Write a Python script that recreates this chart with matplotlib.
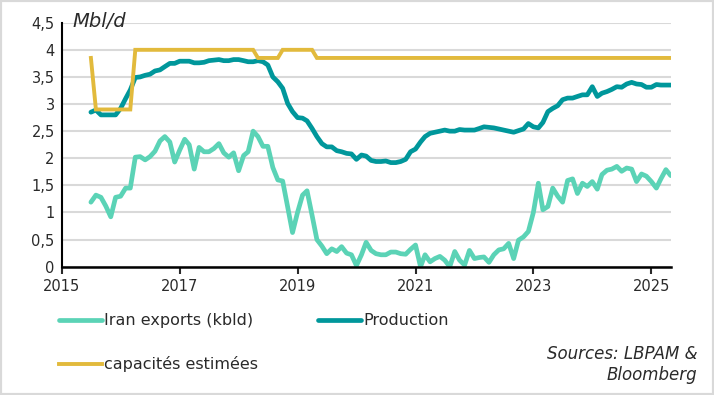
import pandas as pd
import matplotlib.pyplot as plt
import matplotlib.dates as mdates
from matplotlib.patches import Rectangle
from matplotlib.ticker import FixedLocator, FuncFormatter

# monthly data, Jul 2015 -> May 2025
months = pd.date_range("2015-07-01", "2025-05-01", freq="MS")

exports = [
    1.19, 1.32, 1.28, 1.12, 0.92, 1.28,                                      # 2015 H2
    1.30, 1.45, 1.45, 2.02, 2.03, 1.97, 2.03, 2.13, 2.32, 2.40, 2.30, 1.93,  # 2016
    2.15, 2.35, 2.25, 1.80, 2.20, 2.12, 2.12, 2.18, 2.27, 2.10, 2.02, 2.10,  # 2017
    1.77, 2.05, 2.12, 2.50, 2.40, 2.22, 2.22, 1.83, 1.60, 1.58, 1.10, 0.63,  # 2018
    1.00, 1.32, 1.40, 0.95, 0.50, 0.38, 0.24, 0.33, 0.28, 0.37, 0.25, 0.22,  # 2019
    0.02, 0.22, 0.45, 0.30, 0.24, 0.22, 0.22, 0.27, 0.27, 0.24, 0.23, 0.32,  # 2020
    0.40, 0.00, 0.22, 0.09, 0.15, 0.19, 0.12, 0.00, 0.28, 0.12, 0.03, 0.30,  # 2021
    0.15, 0.17, 0.18, 0.08, 0.22, 0.31, 0.33, 0.43, 0.15, 0.49, 0.55, 0.65,  # 2022
    1.00, 1.54, 1.05, 1.11, 1.45, 1.30, 1.19, 1.59, 1.62, 1.35, 1.54, 1.48,  # 2023
    1.57, 1.43, 1.70, 1.78, 1.80, 1.85, 1.76, 1.82, 1.80, 1.57, 1.71, 1.67,  # 2024
    1.57, 1.45, 1.62, 1.79, 1.68,                                            # 2025
]

production = [
    2.85, 2.89, 2.80, 2.80, 2.80, 2.80,
    2.92, 3.10, 3.26, 3.49, 3.50, 3.53, 3.55, 3.61, 3.63, 3.69, 3.75, 3.75,
    3.79, 3.79, 3.79, 3.76, 3.76, 3.77, 3.80, 3.81, 3.82, 3.80, 3.80, 3.82,
    3.82, 3.80, 3.78, 3.78, 3.80, 3.78, 3.72, 3.50, 3.41, 3.29, 3.01, 2.86,
    2.75, 2.74, 2.69, 2.55, 2.40, 2.27, 2.21, 2.21, 2.14, 2.12, 2.09, 2.08,
    1.98, 2.06, 2.04, 1.96, 1.94, 1.94, 1.95, 1.92, 1.92, 1.94, 1.98, 2.12,
    2.17, 2.30, 2.40, 2.46, 2.48, 2.50, 2.52, 2.50, 2.50, 2.53, 2.52, 2.52,
    2.52, 2.55, 2.58, 2.57, 2.56, 2.54, 2.52, 2.50, 2.48, 2.51, 2.54, 2.64,
    2.58, 2.56, 2.66, 2.86, 2.92, 2.97, 3.08, 3.11, 3.11, 3.14, 3.17, 3.17,
    3.32, 3.14, 3.20, 3.23, 3.27, 3.32, 3.31, 3.37, 3.40, 3.37, 3.36, 3.31,
    3.31, 3.36, 3.35, 3.35, 3.35,
]

capacity = (
    [3.85] + [2.90] * 8 + [4.00] * 25 + [3.85] * 5 + [4.00] * 7
    + [3.85] * (len(months) - 46)
)

labels = ["Iran exports (kbld)", "Production", "capacités estimées"]
colors = ["#5BD3B6", "#00979B", "#E2BA3C"]
years = [2015, 2017, 2019, 2021, 2023, 2025]
y_ticks = [0, 0.5, 1, 1.5, 2, 2.5, 3, 3.5, 4, 4.5]

plt.rcParams["font.family"] = ["DejaVu Sans"]
txt = "#2a2a2a"

fig = plt.figure(figsize=(7.14, 3.95), dpi=100)
fig.patches.append(Rectangle((0, 0), 1, 1, transform=fig.transFigure,
                             fill=False, edgecolor="#d9d9d9", linewidth=3))
ax = fig.add_axes([0.0864, 0.3248, 0.853, 0.6177])

l_exp, = ax.plot(months, exports, color=colors[0], lw=3.4,
                 solid_capstyle="round", solid_joinstyle="round")
l_prod, = ax.plot(months, production, color=colors[1], lw=3.4,
                  solid_capstyle="round", solid_joinstyle="round")
l_cap, = ax.plot(months, capacity, color=colors[2], lw=2.8,
                 solid_joinstyle="miter")

ax.set_ylim(0, 4.5)
ax.set_xlim(pd.Timestamp("2015-01-01"), months[-1])
ax.yaxis.set_major_locator(FixedLocator(y_ticks))
ax.yaxis.set_major_formatter(FuncFormatter(lambda v, p: f"{v:g}".replace(".", ",")))
ax.set_xticks([pd.Timestamp(f"{y}-01-01") for y in years])
ax.xaxis.set_major_formatter(mdates.DateFormatter("%Y"))

ax.grid(axis="y", color="#d9d9d9", lw=1.5)
ax.set_axisbelow(True)
for s in ["top", "right"]:
    ax.spines[s].set_visible(False)
ax.spines["left"].set_linewidth(1.5)
ax.spines["bottom"].set_linewidth(1.8)
ax.tick_params(axis="y", length=0, pad=5, labelsize=10.5, colors=txt)
ax.tick_params(axis="x", length=5, width=1.5, pad=4, labelsize=10.5, colors=txt)

ax.text(0.018, 1.005, "Mbl/d", transform=ax.transAxes, fontsize=14,
        style="italic", va="center", ha="left", color=txt)

fig.legend([l_exp, l_cap, l_prod], [labels[0], labels[2], labels[1]],
           loc="upper left", bbox_to_anchor=(0.082, 0.207), ncol=2,
           frameon=False, fontsize=11.5, handlelength=2.7, handletextpad=0.12,
           columnspacing=3.8, labelspacing=1.75, borderaxespad=0, borderpad=0,
           labelcolor=txt)

fig.text(0.977, 0.078, "Sources: LBPAM &\nBloomberg", ha="right", va="center",
         style="italic", fontsize=12, color=txt, linespacing=1.2)

fig.savefig("out.png", dpi=100)
